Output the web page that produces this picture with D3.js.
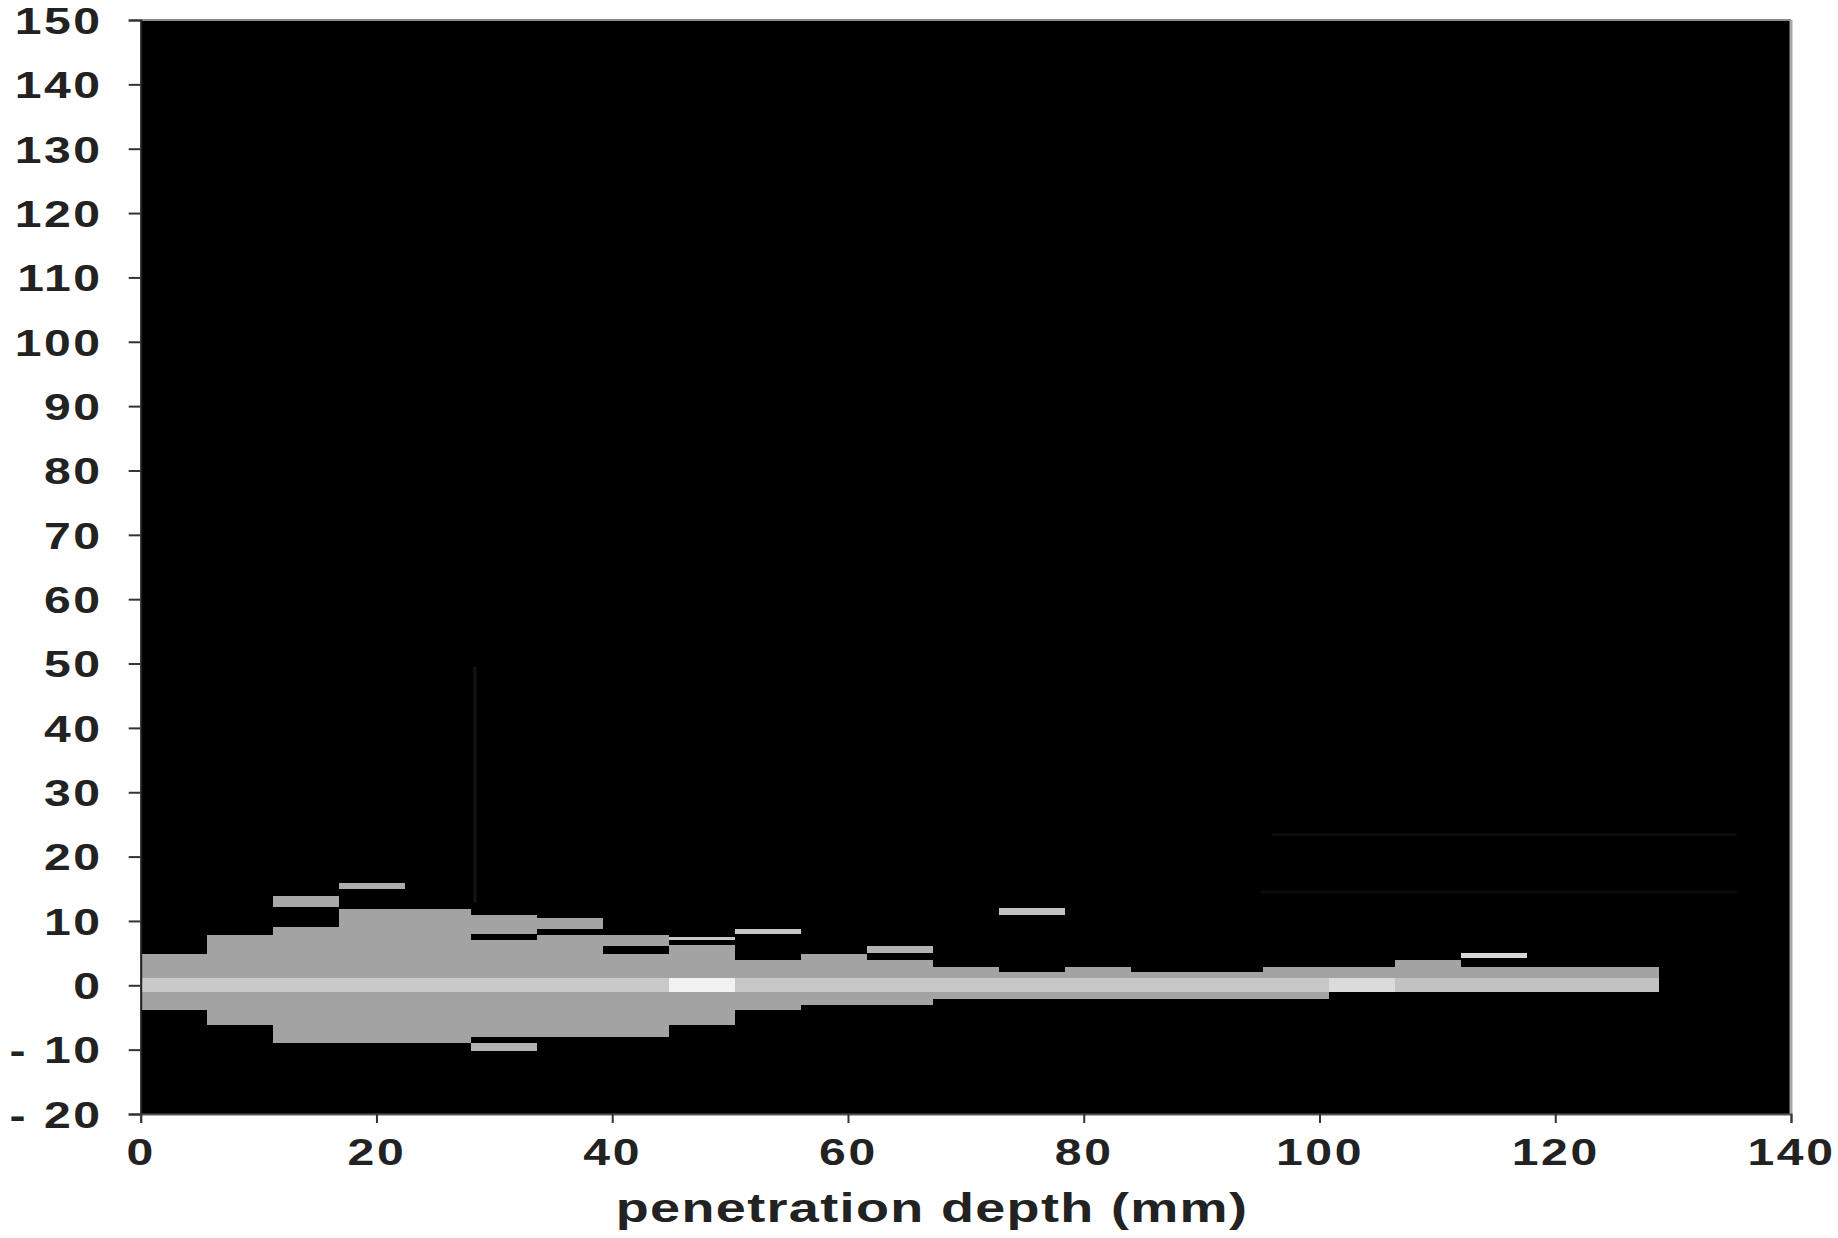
<!DOCTYPE html>
<html>
<head>
<meta charset="utf-8">
<script src="https://cdn.jsdelivr.net/npm/d3@7"></script>
<style>
  body { margin: 0; background: #fff; }
  svg { display: block; font-family: "Liberation Sans", Arial, sans-serif; }
</style>
</head>
<body>
<svg id="chart" width="1838" height="1238"></svg>
<script>
// bin edges along penetration depth (mm)
const binEdges = [0, 5.6, 11.2, 16.8, 22.4, 28, 33.6, 39.2, 44.8, 50.4, 56, 61.6,
  67.2, 72.8, 78.4, 84, 89.6, 95.2, 100.8, 106.4, 112, 117.6, 123.2, 128.8];

// lateral spread of the main body in each bin
const spreadTop = [4.9, 7.8, 9.1, 11.9, 11.9, 7.0, 7.8, 4.9, 6.2, 4.0, 4.9, 4.0,
  2.8, 2.1, 2.9, 2.1, 2.1, 2.9, 2.9, 4.0, 2.8, 2.8, 2.8];
const spreadBottom = [-3.9, -6.1, -9.0, -9.0, -9.0, -8.0, -8.0, -8.0, -6.2, -3.8, -3.1, -3.1,
  -2.1, -2.1, -2.1, -2.1, -2.1, -2.1, -1.0, -1.0, -1.0, -1.0, -1.0];
const spreadLevel = 0.64;

// central core band and its brightness per bin
const coreTop = 1.2;
const coreBottom = -1.0;
const coreLevel = [0.79, 0.79, 0.79, 0.79, 0.79, 0.79, 0.79, 0.79, 0.95, 0.78, 0.78, 0.78,
  0.78, 0.78, 0.78, 0.78, 0.78, 0.78, 0.86, 0.76, 0.76, 0.76, 0.76];

// detached segments: bin index, lower, upper, brightness
const strayBin   = [2, 3, 5, 5, 6, 7, 8, 9, 11, 13, 20];
const strayLow   = [12.1, 14.9, 8.0, -10.2, 8.8, 6.1, 7.0, 7.9, 5.0, 11.0, 4.2];
const strayHigh  = [13.8, 15.9, 10.9, -9.0, 10.4, 7.8, 7.5, 8.7, 6.1, 12.0, 5.0];
const strayLevel = [0.66, 0.68, 0.64, 0.7, 0.64, 0.64, 0.78, 0.78, 0.7, 0.76, 0.84];

// very faint traces in the dark area: [x0, x1, y0, y1]
const faintTraces = [
  [28.35, 28.35, 12.8, 49.5],
  [96, 135.4, 23.4, 23.4],
  [95, 135.4, 14.5, 14.5]
];

const xTicks = [0, 20, 40, 60, 80, 100, 120, 140];
const yTicks = [-20, -10, 0, 10, 20, 30, 40, 50, 60, 70, 80, 90, 100, 110, 120, 130, 140, 150];

const svg = d3.select("#chart");
const x = d3.scaleLinear([0, 140], [140.7, 1791]);
const y = d3.scaleLinear([-20, 150], [1114, 20]);
const grey = d3.scaleLinear([0, 1], ["#000", "#fff"]);

const bins = d3.range(binEdges.length - 1).map(i => ({
  x0: binEdges[i], x1: binEdges[i + 1],
  top: spreadTop[i], bottom: spreadBottom[i], core: coreLevel[i]
}));

// black plotting field
svg.append("rect")
  .attr("x", x(0)).attr("y", y(150))
  .attr("width", x(140) - x(0)).attr("height", y(-20) - y(150))
  .attr("fill", "#000");

const plot = svg.append("g").attr("shape-rendering", "crispEdges");

plot.selectAll(".spread")
  .data(bins)
  .join("rect")
  .attr("class", "spread")
  .attr("x", d => x(d.x0))
  .attr("width", d => x(d.x1) - x(d.x0))
  .attr("y", d => y(d.top))
  .attr("height", d => y(d.bottom) - y(d.top))
  .attr("fill", grey(spreadLevel));

plot.selectAll(".core")
  .data(bins)
  .join("rect")
  .attr("class", "core")
  .attr("x", d => x(d.x0))
  .attr("width", d => x(d.x1) - x(d.x0))
  .attr("y", y(coreTop))
  .attr("height", y(coreBottom) - y(coreTop))
  .attr("fill", d => grey(d.core));

const strays = strayBin.map((b, i) => ({
  x0: binEdges[b], x1: binEdges[b + 1], lo: strayLow[i], hi: strayHigh[i], level: strayLevel[i]
}));

plot.selectAll(".stray")
  .data(strays)
  .join("rect")
  .attr("class", "stray")
  .attr("x", d => x(d.x0))
  .attr("width", d => x(d.x1) - x(d.x0))
  .attr("y", d => y(d.hi))
  .attr("height", d => y(d.lo) - y(d.hi))
  .attr("fill", d => grey(d.level));

svg.selectAll(".faint")
  .data(faintTraces)
  .join("line")
  .attr("class", "faint")
  .attr("x1", d => x(d[0])).attr("x2", d => x(d[1]))
  .attr("y1", d => y(d[2])).attr("y2", d => y(d[3]))
  .attr("stroke", (d, i) => i === 0 ? "#141414" : "#0c0c0c")
  .attr("stroke-width", 3);

// frame: top and right edges
svg.append("line")
  .attr("x1", x(0)).attr("x2", x(140))
  .attr("y1", y(150)).attr("y2", y(150))
  .attr("stroke", "#8a8a8a").attr("stroke-width", 2);
svg.append("line")
  .attr("x1", x(140)).attr("x2", x(140))
  .attr("y1", y(150)).attr("y2", y(-20))
  .attr("stroke", "#a8a8a8").attr("stroke-width", 3);

// ─── Axes ──────────────────────────────────────────────
const fmtY = d => d < 0 ? "- " + Math.abs(d) : String(d);

const gy = svg.append("g")
  .attr("transform", `translate(${x(0)},0)`)
  .call(d3.axisLeft(y).tickValues(yTicks).tickSize(12).tickFormat(fmtY));
gy.attr("font-family", null).attr("font-size", null);
gy.select(".domain").attr("stroke", "#222").attr("stroke-width", 2);
gy.selectAll(".tick line").attr("stroke", "#333").attr("stroke-width", 2);
gy.selectAll(".tick text")
  .attr("x", null)
  .attr("dy", "0.36em")
  .attr("transform", "translate(-38,0) scale(1.3,1)")
  .attr("font-size", 37)
  .attr("font-weight", "bold")
  .attr("letter-spacing", 2)
  .attr("fill", "#222");

const gx = svg.append("g")
  .attr("transform", `translate(0,${y(-20)})`)
  .call(d3.axisBottom(x).tickValues(xTicks).tickSize(9).tickFormat(d3.format("d")));
gx.attr("font-family", null).attr("font-size", null);
gx.select(".domain").attr("stroke", "#555").attr("stroke-width", 2);
gx.selectAll(".tick line").attr("stroke", "#333").attr("stroke-width", 2);
gx.selectAll(".tick text")
  .attr("y", null)
  .attr("dy", 0)
  .attr("transform", "translate(0,51) scale(1.3,1)")
  .attr("font-size", 37)
  .attr("font-weight", "bold")
  .attr("letter-spacing", 2)
  .attr("fill", "#222");

svg.append("text")
  .attr("transform", "translate(932,1222) scale(1.35,1)")
  .attr("text-anchor", "middle")
  .attr("font-size", 40)
  .attr("font-weight", "bold")
  .attr("letter-spacing", 1)
  .attr("fill", "#222")
  .text("penetration depth (mm)");
</script>
</body>
</html>
